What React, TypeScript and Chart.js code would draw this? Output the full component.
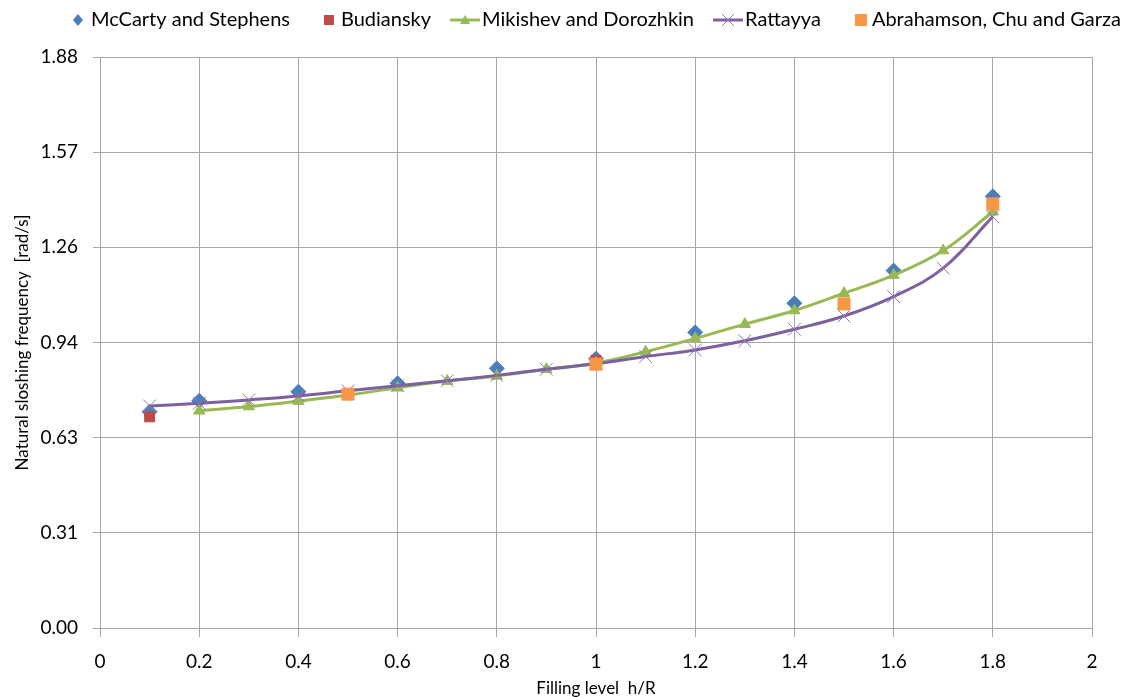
import { useEffect, useRef } from 'react';
import { Chart, registerables } from 'chart.js';

Chart.register(...registerables);

// ---- Data ----
const mccartyX = [0.1, 0.2, 0.4, 0.6, 0.8, 1.0, 1.2, 1.4, 1.6, 1.8];
const mccartyY = [0.714, 0.75, 0.78, 0.808, 0.857, 0.889, 0.976, 1.072, 1.18, 1.425];

const budianskyX = [0.1, 1.0];
const budianskyY = [0.697, 0.884];

const mikishevX = [0.2, 0.3, 0.4, 0.5, 0.6, 0.7, 0.8, 0.9, 1.0, 1.1, 1.2, 1.3, 1.4, 1.5, 1.6, 1.7, 1.8];
const mikishevY = [0.717, 0.731, 0.749, 0.769, 0.793, 0.815, 0.832, 0.854, 0.875, 0.912, 0.956, 1.003, 1.048, 1.105, 1.165, 1.246, 1.374];

const rattayyaX = [0.1, 0.2, 0.3, 0.4, 0.5, 0.6, 0.7, 0.8, 0.9, 1.0, 1.1, 1.2, 1.3, 1.4, 1.5, 1.6, 1.7, 1.8];
const rattayyaY = [0.733, 0.742, 0.753, 0.766, 0.783, 0.8, 0.816, 0.834, 0.854, 0.872, 0.896, 0.918, 0.948, 0.986, 1.03, 1.094, 1.188, 1.358];

const abrahamsonX = [0.5, 1.0, 1.5, 1.8];
const abrahamsonY = [0.772, 0.871, 1.07, 1.4];

const seriesNames = [
  'McCarty and Stephens',
  'Budiansky',
  'Mikishev and Dorozhkin',
  'Rattayya',
  'Abrahamson, Chu and Garza',
];

const yAxisMax = 1.885;
const yTickLabels = ['0.00', '0.31', '0.63', '0.94', '1.26', '1.57', '1.88'];
const xAxisMin = 0;
const xAxisMax = 2;
const xStep = 0.2;

const xTitle = 'Filling level  h/R';
const yTitle = 'Natural sloshing frequency  [rad/s]';

// ---- Styles ----
const BLUE = '#4A7EBB';
const RED = '#BE4B48';
const GREEN = '#98B954';
const PURPLE = '#7D60A0';
const ORANGE = '#F79646';
const GRID = '#A6A6A6';
const FONT = 'Lato';

const pts = (xs: number[], ys: number[]) => xs.map((x, i) => ({ x, y: ys[i] }));

function makeIcon(draw: (ctx: CanvasRenderingContext2D) => void) {
  const c = document.createElement('canvas');
  c.width = 56;
  c.height = 22;
  const ctx = c.getContext('2d')!;
  draw(ctx);
  return c;
}

function buildIcons() {
  const cy = 11;
  const diamond = makeIcon((ctx) => {
    ctx.fillStyle = BLUE;
    ctx.beginPath();
    const cx = 43;
    ctx.moveTo(cx, cy - 6);
    ctx.lineTo(cx + 5, cy);
    ctx.lineTo(cx, cy + 6);
    ctx.lineTo(cx - 5, cy);
    ctx.closePath();
    ctx.fill();
  });
  const redSq = makeIcon((ctx) => {
    ctx.fillStyle = RED;
    ctx.fillRect(39, cy - 5, 10, 10);
  });
  const lineTri = makeIcon((ctx) => {
    ctx.strokeStyle = GREEN;
    ctx.lineWidth = 3;
    ctx.beginPath();
    ctx.moveTo(24, cy);
    ctx.lineTo(54, cy);
    ctx.stroke();
    ctx.fillStyle = GREEN;
    ctx.beginPath();
    ctx.moveTo(39, cy - 5);
    ctx.lineTo(44, cy + 4);
    ctx.lineTo(34, cy + 4);
    ctx.closePath();
    ctx.fill();
  });
  const lineCross = makeIcon((ctx) => {
    ctx.strokeStyle = PURPLE;
    ctx.lineWidth = 3;
    ctx.beginPath();
    ctx.moveTo(24, cy);
    ctx.lineTo(54, cy);
    ctx.stroke();
    ctx.lineWidth = 1;
    ctx.strokeStyle = '#8E79B3';
    ctx.beginPath();
    ctx.moveTo(33, cy - 6);
    ctx.lineTo(45, cy + 6);
    ctx.moveTo(45, cy - 6);
    ctx.lineTo(33, cy + 6);
    ctx.stroke();
  });
  const orangeSq = makeIcon((ctx) => {
    ctx.fillStyle = ORANGE;
    ctx.fillRect(39, cy - 6, 12, 12);
  });
  return [diamond, redSq, lineTri, lineCross, orangeSq];
}

export default function App() {
  const canvasRef = useRef<HTMLCanvasElement | null>(null);

  useEffect(() => {
    if (!canvasRef.current) return;
    const icons = buildIcons();

    const legendHeight = {
      id: 'legendHeight',
      beforeInit(chart: any) {
        const orig = chart.legend.fit;
        chart.legend.fit = function fit() {
          orig.bind(chart.legend)();
          this.height = 52;
        };
      },
    };

    const chart = new Chart(canvasRef.current, {
      type: 'scatter',
      data: {
        datasets: [
          {
            label: seriesNames[0],
            data: pts(mccartyX, mccartyY),
            showLine: false,
            pointStyle: 'rectRot',
            pointRadius: 7.5,
            backgroundColor: BLUE,
            borderColor: BLUE,
            pointBorderWidth: 1,
            order: 5,
          },
          {
            label: seriesNames[1],
            data: pts(budianskyX, budianskyY),
            showLine: false,
            pointStyle: 'rect',
            pointRadius: 7,
            backgroundColor: RED,
            borderColor: RED,
            pointBorderWidth: 1,
            order: 4,
          },
          {
            label: seriesNames[2],
            data: pts(mikishevX, mikishevY),
            showLine: true,
            tension: 0.4,
            borderWidth: 3,
            borderColor: GREEN,
            backgroundColor: GREEN,
            pointStyle: 'triangle',
            pointRadius: 6.5,
            pointBorderWidth: 1,
            pointBackgroundColor: GREEN,
            pointBorderColor: GREEN,
            order: 3,
          },
          {
            label: seriesNames[3],
            data: pts(rattayyaX, rattayyaY),
            showLine: true,
            tension: 0.4,
            borderWidth: 3,
            borderColor: PURPLE,
            backgroundColor: PURPLE,
            pointStyle: 'crossRot',
            pointRadius: 9,
            pointBorderWidth: 1,
            pointBorderColor: '#8E79B3',
            order: 2,
          },
          {
            label: seriesNames[4],
            data: pts(abrahamsonX, abrahamsonY),
            showLine: false,
            pointStyle: 'rect',
            pointRadius: 8.5,
            backgroundColor: ORANGE,
            borderColor: ORANGE,
            pointBorderWidth: 1,
            order: 1,
          },
        ],
      },
      options: {
        animation: false,
        responsive: false,
        maintainAspectRatio: false,
        layout: { padding: { top: 5, left: 0, right: 0, bottom: 0 } },
        plugins: {
          tooltip: { enabled: false },
          legend: {
            position: 'top',
            align: 'end',
            labels: {
              usePointStyle: true,
              pointStyleWidth: 36,
              boxWidth: 36,
              padding: 5,
              color: '#000',
              font: { family: FONT, size: 20 },
              sort: (a: any, b: any) => a.datasetIndex - b.datasetIndex,
              generateLabels: (ch: any) => {
                const items = (Chart.defaults.plugins.legend.labels as any).generateLabels(ch);
                return items.map((it: any) => ({ ...it, pointStyle: icons[it.datasetIndex] }));
              },
            },
          },
        },
        scales: {
          x: {
            type: 'linear',
            min: xAxisMin,
            max: xAxisMax,
            afterFit: (s: any) => {
              s.height = 69;
            },
            ticks: {
              stepSize: xStep,
              padding: 13,
              color: '#000',
              font: { family: FONT, size: 19 },
              callback: (v: any) => String(Number(Number(v).toFixed(1))),
            },
            grid: { color: GRID, lineWidth: 1, tickLength: 9, drawTicks: true },
            border: { color: GRID },
            title: {
              display: true,
              text: xTitle,
              color: '#000',
              font: { family: FONT, size: 17, lineHeight: 1 },
              padding: { top: 0, bottom: 0 },
            },
          },
          y: {
            type: 'linear',
            min: 0,
            max: yAxisMax,
            afterFit: (s: any) => {
              s.width = 100;
            },
            afterBuildTicks: (s: any) => {
              s.ticks = yTickLabels.map((_, i) => ({ value: (i * yAxisMax) / (yTickLabels.length - 1) }));
            },
            ticks: {
              padding: 15,
              color: '#000',
              font: { family: FONT, size: 19 },
              callback: (_v: any, i: number) => yTickLabels[i],
            },
            grid: { color: GRID, lineWidth: 1, tickLength: 7, drawTicks: true },
            border: { color: GRID },
            title: {
              display: true,
              text: yTitle,
              color: '#000',
              font: { family: FONT, size: 17, lineHeight: 1.2 },
              padding: { top: 12, bottom: 0 },
            },
          },
          yRight: {
            type: 'linear',
            position: 'right',
            display: true,
            afterFit: (s: any) => {
              s.width = 34;
            },
            ticks: { display: false },
            grid: { display: false, drawTicks: false },
            border: { display: false },
          },
        },
      },
      plugins: [legendHeight],
    } as any);

    return () => chart.destroy();
  }, []);

  return (
    <div style={{ position: 'absolute', left: 0, top: 0, width: 1126, height: 697, background: '#fff' }}>
      <canvas ref={canvasRef} width={1126} height={697} style={{ display: 'block', width: 1126, height: 697 }} />
    </div>
  );
}
